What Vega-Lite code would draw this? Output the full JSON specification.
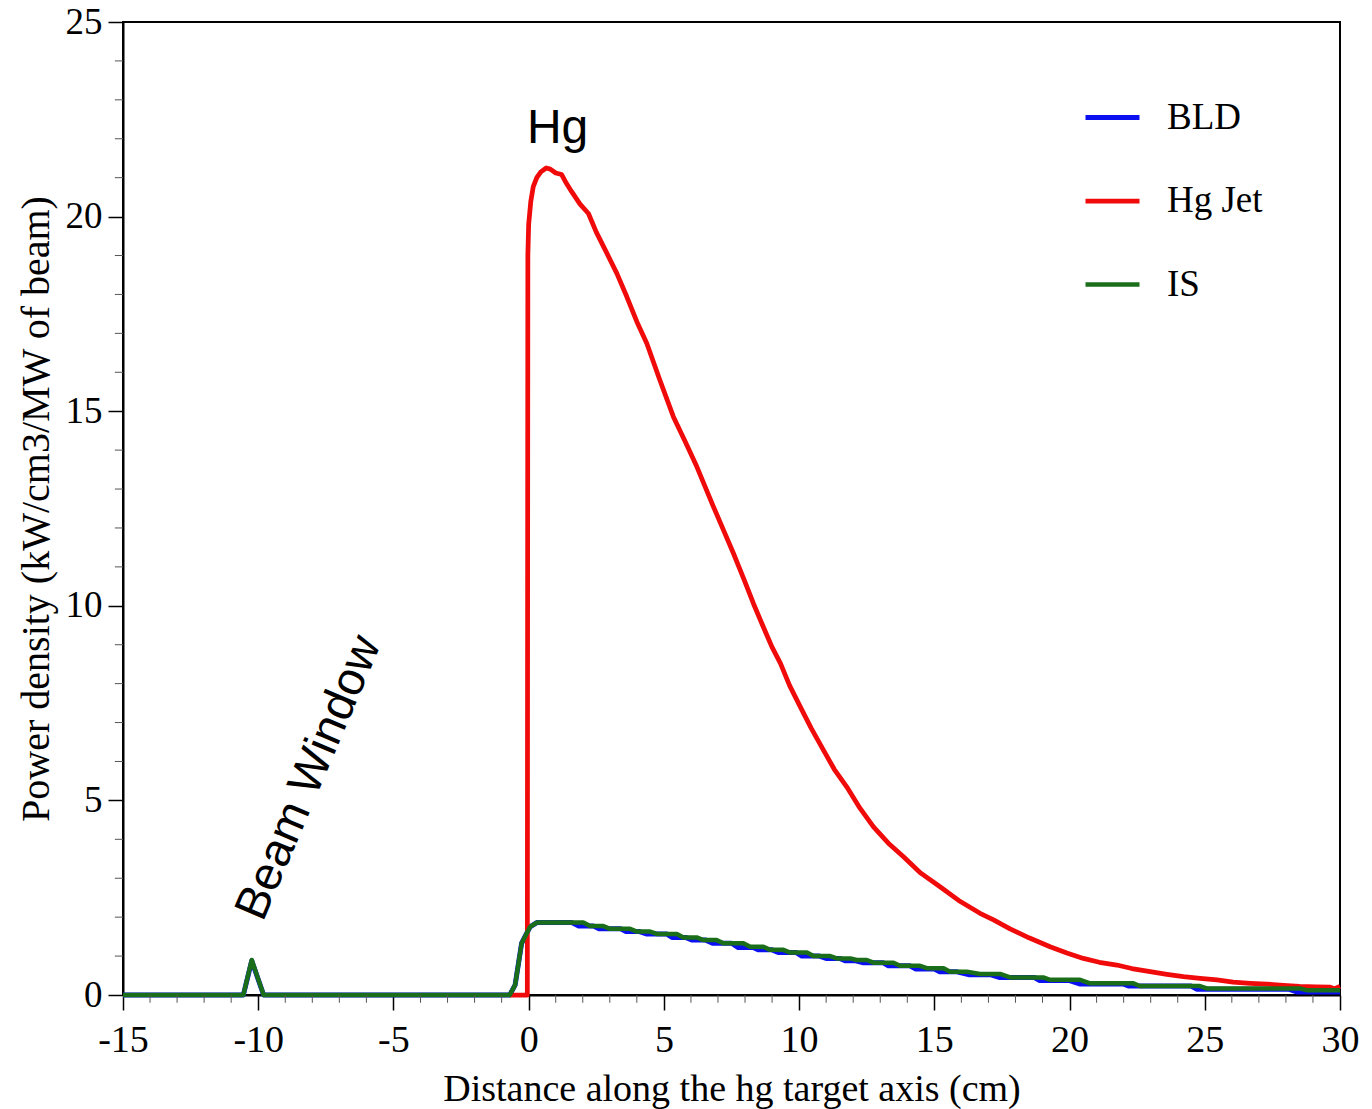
{
  "$schema": "https://vega.github.io/schema/vega-lite/v6.json",
  "width": 1217,
  "height": 973,
  "autosize": {"type": "none"},
  "padding": {"left": 123, "top": 22, "right": 32, "bottom": 114},
  "background": "white",
  "config": {
    "view": {"stroke": "black", "strokeWidth": 2},
    "font": "Liberation Serif"
  },
  "datasets": {
    "curves": [
      {"series": "BLD", "x": -15, "y": 0}, {"series": "BLD", "x": -10.55, "y": 0}, {"series": "BLD", "x": -10.24, "y": 0.88}, {"series": "BLD", "x": -9.8, "y": 0},
      {"series": "BLD", "x": -0.7, "y": 0}, {"series": "BLD", "x": -0.5, "y": 0.26}, {"series": "BLD", "x": -0.26, "y": 1.33}, {"series": "BLD", "x": 0.05, "y": 1.75},
      {"series": "BLD", "x": 0.3, "y": 1.86}, {"series": "BLD", "x": 1.6, "y": 1.86}, {"series": "BLD", "x": 1.85, "y": 1.77}, {"series": "BLD", "x": 2.4, "y": 1.77},
      {"series": "BLD", "x": 2.6, "y": 1.7}, {"series": "BLD", "x": 3.4, "y": 1.7}, {"series": "BLD", "x": 3.6, "y": 1.63}, {"series": "BLD", "x": 4.1, "y": 1.63},
      {"series": "BLD", "x": 4.35, "y": 1.57}, {"series": "BLD", "x": 5.1, "y": 1.57}, {"series": "BLD", "x": 5.3, "y": 1.48}, {"series": "BLD", "x": 5.8, "y": 1.48},
      {"series": "BLD", "x": 6.05, "y": 1.41}, {"series": "BLD", "x": 6.55, "y": 1.41}, {"series": "BLD", "x": 6.8, "y": 1.33}, {"series": "BLD", "x": 7.5, "y": 1.33},
      {"series": "BLD", "x": 7.75, "y": 1.22}, {"series": "BLD", "x": 8.3, "y": 1.22}, {"series": "BLD", "x": 8.5, "y": 1.16}, {"series": "BLD", "x": 9.0, "y": 1.16},
      {"series": "BLD", "x": 9.25, "y": 1.09}, {"series": "BLD", "x": 9.9, "y": 1.09}, {"series": "BLD", "x": 10.1, "y": 1.0}, {"series": "BLD", "x": 10.75, "y": 1.0},
      {"series": "BLD", "x": 11.0, "y": 0.94}, {"series": "BLD", "x": 11.5, "y": 0.94}, {"series": "BLD", "x": 11.7, "y": 0.88}, {"series": "BLD", "x": 12.1, "y": 0.88},
      {"series": "BLD", "x": 12.35, "y": 0.83}, {"series": "BLD", "x": 13.1, "y": 0.83}, {"series": "BLD", "x": 13.3, "y": 0.75}, {"series": "BLD", "x": 14.1, "y": 0.75},
      {"series": "BLD", "x": 14.3, "y": 0.67}, {"series": "BLD", "x": 15.0, "y": 0.67}, {"series": "BLD", "x": 15.2, "y": 0.6}, {"series": "BLD", "x": 15.8, "y": 0.6},
      {"series": "BLD", "x": 16.3, "y": 0.52}, {"series": "BLD", "x": 17.1, "y": 0.52}, {"series": "BLD", "x": 17.4, "y": 0.45}, {"series": "BLD", "x": 18.7, "y": 0.45},
      {"series": "BLD", "x": 18.9, "y": 0.37}, {"series": "BLD", "x": 20.0, "y": 0.37}, {"series": "BLD", "x": 20.4, "y": 0.28}, {"series": "BLD", "x": 22.0, "y": 0.28},
      {"series": "BLD", "x": 22.2, "y": 0.23}, {"series": "BLD", "x": 24.5, "y": 0.23}, {"series": "BLD", "x": 24.7, "y": 0.15}, {"series": "BLD", "x": 28.1, "y": 0.15},
      {"series": "BLD", "x": 28.4, "y": 0.08}, {"series": "BLD", "x": 30, "y": 0.08},

      {"series": "Hg Jet", "x": -0.7, "y": 0}, {"series": "Hg Jet", "x": -0.05, "y": 0}, {"series": "Hg Jet", "x": -0.03, "y": 19.0}, {"series": "Hg Jet", "x": 0.0, "y": 19.8},
      {"series": "Hg Jet", "x": 0.08, "y": 20.4}, {"series": "Hg Jet", "x": 0.17, "y": 20.77}, {"series": "Hg Jet", "x": 0.3, "y": 21.0}, {"series": "Hg Jet", "x": 0.45, "y": 21.15},
      {"series": "Hg Jet", "x": 0.65, "y": 21.25}, {"series": "Hg Jet", "x": 0.8, "y": 21.22}, {"series": "Hg Jet", "x": 1.0, "y": 21.12}, {"series": "Hg Jet", "x": 1.22, "y": 21.08},
      {"series": "Hg Jet", "x": 1.4, "y": 20.85}, {"series": "Hg Jet", "x": 1.59, "y": 20.64}, {"series": "Hg Jet", "x": 1.9, "y": 20.32}, {"series": "Hg Jet", "x": 2.21, "y": 20.08},
      {"series": "Hg Jet", "x": 2.5, "y": 19.6}, {"series": "Hg Jet", "x": 2.89, "y": 19.06}, {"series": "Hg Jet", "x": 3.26, "y": 18.54}, {"series": "Hg Jet", "x": 3.63, "y": 17.94},
      {"series": "Hg Jet", "x": 4.0, "y": 17.3}, {"series": "Hg Jet", "x": 4.37, "y": 16.74}, {"series": "Hg Jet", "x": 4.85, "y": 15.8}, {"series": "Hg Jet", "x": 5.35, "y": 14.86},
      {"series": "Hg Jet", "x": 5.8, "y": 14.2}, {"series": "Hg Jet", "x": 6.22, "y": 13.57}, {"series": "Hg Jet", "x": 6.83, "y": 12.55}, {"series": "Hg Jet", "x": 7.2, "y": 11.95},
      {"series": "Hg Jet", "x": 7.57, "y": 11.35}, {"series": "Hg Jet", "x": 7.95, "y": 10.7}, {"series": "Hg Jet", "x": 8.31, "y": 10.06}, {"series": "Hg Jet", "x": 8.65, "y": 9.5},
      {"series": "Hg Jet", "x": 8.99, "y": 8.95}, {"series": "Hg Jet", "x": 9.31, "y": 8.52}, {"series": "Hg Jet", "x": 9.65, "y": 7.95}, {"series": "Hg Jet", "x": 10.04, "y": 7.41},
      {"series": "Hg Jet", "x": 10.45, "y": 6.85}, {"series": "Hg Jet", "x": 10.9, "y": 6.29}, {"series": "Hg Jet", "x": 11.3, "y": 5.8}, {"series": "Hg Jet", "x": 11.76, "y": 5.35},
      {"series": "Hg Jet", "x": 12.25, "y": 4.8}, {"series": "Hg Jet", "x": 12.75, "y": 4.32}, {"series": "Hg Jet", "x": 13.3, "y": 3.9}, {"series": "Hg Jet", "x": 13.86, "y": 3.55},
      {"series": "Hg Jet", "x": 14.5, "y": 3.13}, {"series": "Hg Jet", "x": 15.21, "y": 2.78}, {"series": "Hg Jet", "x": 15.9, "y": 2.43}, {"series": "Hg Jet", "x": 16.69, "y": 2.1},
      {"series": "Hg Jet", "x": 17.19, "y": 1.93}, {"series": "Hg Jet", "x": 17.8, "y": 1.7}, {"series": "Hg Jet", "x": 18.5, "y": 1.47}, {"series": "Hg Jet", "x": 19.28, "y": 1.24},
      {"series": "Hg Jet", "x": 19.9, "y": 1.08}, {"series": "Hg Jet", "x": 20.51, "y": 0.94}, {"series": "Hg Jet", "x": 21.1, "y": 0.84}, {"series": "Hg Jet", "x": 21.75, "y": 0.77},
      {"series": "Hg Jet", "x": 22.3, "y": 0.68}, {"series": "Hg Jet", "x": 22.98, "y": 0.6}, {"series": "Hg Jet", "x": 23.6, "y": 0.53}, {"series": "Hg Jet", "x": 24.21, "y": 0.47},
      {"series": "Hg Jet", "x": 24.83, "y": 0.43}, {"series": "Hg Jet", "x": 25.45, "y": 0.39}, {"series": "Hg Jet", "x": 26.05, "y": 0.33}, {"series": "Hg Jet", "x": 26.68, "y": 0.3},
      {"series": "Hg Jet", "x": 27.3, "y": 0.28}, {"series": "Hg Jet", "x": 27.91, "y": 0.25}, {"series": "Hg Jet", "x": 28.5, "y": 0.22}, {"series": "Hg Jet", "x": 29.1, "y": 0.21},
      {"series": "Hg Jet", "x": 29.64, "y": 0.2}, {"series": "Hg Jet", "x": 29.8, "y": 0.16}, {"series": "Hg Jet", "x": 30, "y": 0.22},

      {"series": "IS", "x": -15, "y": 0}, {"series": "IS", "x": -10.55, "y": 0}, {"series": "IS", "x": -10.24, "y": 0.9}, {"series": "IS", "x": -9.8, "y": 0},
      {"series": "IS", "x": -0.7, "y": 0}, {"series": "IS", "x": -0.5, "y": 0.26}, {"series": "IS", "x": -0.26, "y": 1.33}, {"series": "IS", "x": 0.05, "y": 1.75},
      {"series": "IS", "x": 0.3, "y": 1.86}, {"series": "IS", "x": 2.02, "y": 1.86}, {"series": "IS", "x": 2.27, "y": 1.77}, {"series": "IS", "x": 2.76, "y": 1.77},
      {"series": "IS", "x": 3.01, "y": 1.7}, {"series": "IS", "x": 3.75, "y": 1.7}, {"series": "IS", "x": 4.0, "y": 1.63}, {"series": "IS", "x": 4.49, "y": 1.63},
      {"series": "IS", "x": 4.74, "y": 1.57}, {"series": "IS", "x": 5.48, "y": 1.57}, {"series": "IS", "x": 5.72, "y": 1.48}, {"series": "IS", "x": 6.21, "y": 1.48},
      {"series": "IS", "x": 6.46, "y": 1.41}, {"series": "IS", "x": 6.95, "y": 1.41}, {"series": "IS", "x": 7.2, "y": 1.33}, {"series": "IS", "x": 7.94, "y": 1.33},
      {"series": "IS", "x": 8.19, "y": 1.24}, {"series": "IS", "x": 8.68, "y": 1.24}, {"series": "IS", "x": 8.93, "y": 1.16}, {"series": "IS", "x": 9.42, "y": 1.16},
      {"series": "IS", "x": 9.67, "y": 1.09}, {"series": "IS", "x": 10.29, "y": 1.09}, {"series": "IS", "x": 10.53, "y": 1.0}, {"series": "IS", "x": 11.15, "y": 1.0},
      {"series": "IS", "x": 11.39, "y": 0.94}, {"series": "IS", "x": 11.89, "y": 0.94}, {"series": "IS", "x": 12.13, "y": 0.9}, {"series": "IS", "x": 12.5, "y": 0.9},
      {"series": "IS", "x": 12.75, "y": 0.83}, {"series": "IS", "x": 13.49, "y": 0.83}, {"series": "IS", "x": 13.73, "y": 0.75}, {"series": "IS", "x": 14.47, "y": 0.75},
      {"series": "IS", "x": 14.72, "y": 0.69}, {"series": "IS", "x": 15.34, "y": 0.69}, {"series": "IS", "x": 15.58, "y": 0.6}, {"series": "IS", "x": 16.2, "y": 0.6},
      {"series": "IS", "x": 16.69, "y": 0.54}, {"series": "IS", "x": 17.43, "y": 0.54}, {"series": "IS", "x": 17.8, "y": 0.45}, {"series": "IS", "x": 19.03, "y": 0.45},
      {"series": "IS", "x": 19.28, "y": 0.39}, {"series": "IS", "x": 20.39, "y": 0.39}, {"series": "IS", "x": 20.76, "y": 0.3}, {"series": "IS", "x": 22.36, "y": 0.3},
      {"series": "IS", "x": 22.6, "y": 0.23}, {"series": "IS", "x": 24.82, "y": 0.23}, {"series": "IS", "x": 25.07, "y": 0.17}, {"series": "IS", "x": 28.5, "y": 0.17},
      {"series": "IS", "x": 28.8, "y": 0.12}, {"series": "IS", "x": 30, "y": 0.12}
    ],
    "minor": [
      {"axis": "x", "v": -14}, {"axis": "x", "v": -13}, {"axis": "x", "v": -12}, {"axis": "x", "v": -11},
      {"axis": "x", "v": -9}, {"axis": "x", "v": -8}, {"axis": "x", "v": -7}, {"axis": "x", "v": -6},
      {"axis": "x", "v": -4}, {"axis": "x", "v": -3}, {"axis": "x", "v": -2}, {"axis": "x", "v": -1},
      {"axis": "x", "v": 1}, {"axis": "x", "v": 2}, {"axis": "x", "v": 3}, {"axis": "x", "v": 4},
      {"axis": "x", "v": 6}, {"axis": "x", "v": 7}, {"axis": "x", "v": 8}, {"axis": "x", "v": 9},
      {"axis": "x", "v": 11}, {"axis": "x", "v": 12}, {"axis": "x", "v": 13}, {"axis": "x", "v": 14},
      {"axis": "x", "v": 16}, {"axis": "x", "v": 17}, {"axis": "x", "v": 18}, {"axis": "x", "v": 19},
      {"axis": "x", "v": 21}, {"axis": "x", "v": 22}, {"axis": "x", "v": 23}, {"axis": "x", "v": 24},
      {"axis": "x", "v": 26}, {"axis": "x", "v": 27}, {"axis": "x", "v": 28}, {"axis": "x", "v": 29},
      {"axis": "y", "v": 1}, {"axis": "y", "v": 2}, {"axis": "y", "v": 3}, {"axis": "y", "v": 4},
      {"axis": "y", "v": 6}, {"axis": "y", "v": 7}, {"axis": "y", "v": 8}, {"axis": "y", "v": 9},
      {"axis": "y", "v": 11}, {"axis": "y", "v": 12}, {"axis": "y", "v": 13}, {"axis": "y", "v": 14},
      {"axis": "y", "v": 16}, {"axis": "y", "v": 17}, {"axis": "y", "v": 18}, {"axis": "y", "v": 19},
      {"axis": "y", "v": 21}, {"axis": "y", "v": 22}, {"axis": "y", "v": 23}, {"axis": "y", "v": 24}
    ],
    "notes": [
      {"label": "Hg", "x": 1.07, "y": 21.89},
      {"label": "Beam Window", "x": -8.12, "y": 5.58}
    ]
  },
  "layer": [
    {
      "data": {"name": "curves"},
      "mark": {"type": "line", "strokeJoin": "round", "strokeCap": "butt"},
      "encoding": {
        "x": {
          "field": "x", "type": "quantitative",
          "scale": {"domain": [-15, 30], "nice": false, "zero": false},
          "axis": {
            "orient": "bottom",
            "values": [-15, -10, -5, 0, 5, 10, 15, 20, 25, 30],
            "labelExpr": "toString(datum.value)",
            "grid": false, "tickSize": 15, "tickWidth": 1.5, "tickColor": "black",
            "domainColor": "black", "domainWidth": 2,
            "labelFont": "Liberation Serif", "labelFontSize": 38, "labelColor": "black",
            "labelPadding": 11, "labelFlush": false, "labelOverlap": false,
            "title": "Distance along the hg target axis (cm)",
            "titleFont": "Liberation Serif", "titleFontSize": 38, "titleFontWeight": "normal",
            "titleColor": "black", "titlePadding": 11
          }
        },
        "y": {
          "field": "y", "type": "quantitative",
          "scale": {"domain": [0, 25], "nice": false},
          "axis": {
            "orient": "left",
            "values": [0, 5, 10, 15, 20, 25],
            "grid": false, "tickSize": 15, "tickWidth": 1.5, "tickColor": "black",
            "domainColor": "black", "domainWidth": 2,
            "labelFont": "Liberation Serif", "labelFontSize": 37, "labelColor": "black",
            "labelPadding": 6, "labelFlush": false, "labelOverlap": false,
            "title": "Power density (kW/cm3/MW of beam)",
            "titleFont": "Liberation Serif", "titleFontSize": 40, "titleFontWeight": "normal",
            "titleColor": "black", "titlePadding": 9
          }
        },
        "color": {
          "field": "series", "type": "nominal",
          "scale": {"domain": ["BLD", "Hg Jet", "IS"], "range": ["#0a10f0", "#f00a0a", "#1a6e1a"]},
          "legend": {
            "orient": "none", "legendX": 960, "legendY": 66,
            "title": null, "padding": 0,
            "symbolType": "stroke", "symbolSize": 2916, "symbolStrokeWidth": 5,
            "labelFont": "Liberation Serif", "labelFontSize": 37, "labelColor": "black",
            "labelOffset": 25, "rowPadding": 35.5
          }
        },
        "strokeWidth": {
          "field": "series", "type": "nominal",
          "scale": {"domain": ["BLD", "Hg Jet", "IS"], "range": [5, 4.5, 6]},
          "legend": null
        }
      }
    },
    {
      "data": {"name": "minor"},
      "transform": [{"filter": "datum.axis == 'x'"}],
      "mark": {"type": "rule", "color": "#555555", "strokeWidth": 1, "clip": false},
      "encoding": {
        "x": {"field": "v", "type": "quantitative"},
        "y": {"datum": 0},
        "y2": {"datum": -0.2}
      }
    },
    {
      "data": {"name": "minor"},
      "transform": [{"filter": "datum.axis == 'y'"}],
      "mark": {"type": "rule", "color": "#555555", "strokeWidth": 1, "clip": false},
      "encoding": {
        "y": {"field": "v", "type": "quantitative"},
        "x": {"datum": -15},
        "x2": {"datum": -15.3}
      }
    },
    {
      "data": {"name": "notes"},
      "transform": [{"filter": "datum.label == 'Hg'"}],
      "mark": {"type": "text", "font": "Liberation Sans", "fontSize": 48, "align": "center", "baseline": "alphabetic", "color": "black"},
      "encoding": {
        "x": {"field": "x", "type": "quantitative"},
        "y": {"field": "y", "type": "quantitative"},
        "text": {"field": "label"}
      }
    },
    {
      "data": {"name": "notes"},
      "transform": [{"filter": "datum.label == 'Beam Window'"}],
      "mark": {"type": "text", "font": "Liberation Sans", "fontSize": 47, "align": "center", "baseline": "middle", "angle": -67, "color": "black"},
      "encoding": {
        "x": {"field": "x", "type": "quantitative"},
        "y": {"field": "y", "type": "quantitative"},
        "text": {"field": "label"}
      }
    }
  ]
}
